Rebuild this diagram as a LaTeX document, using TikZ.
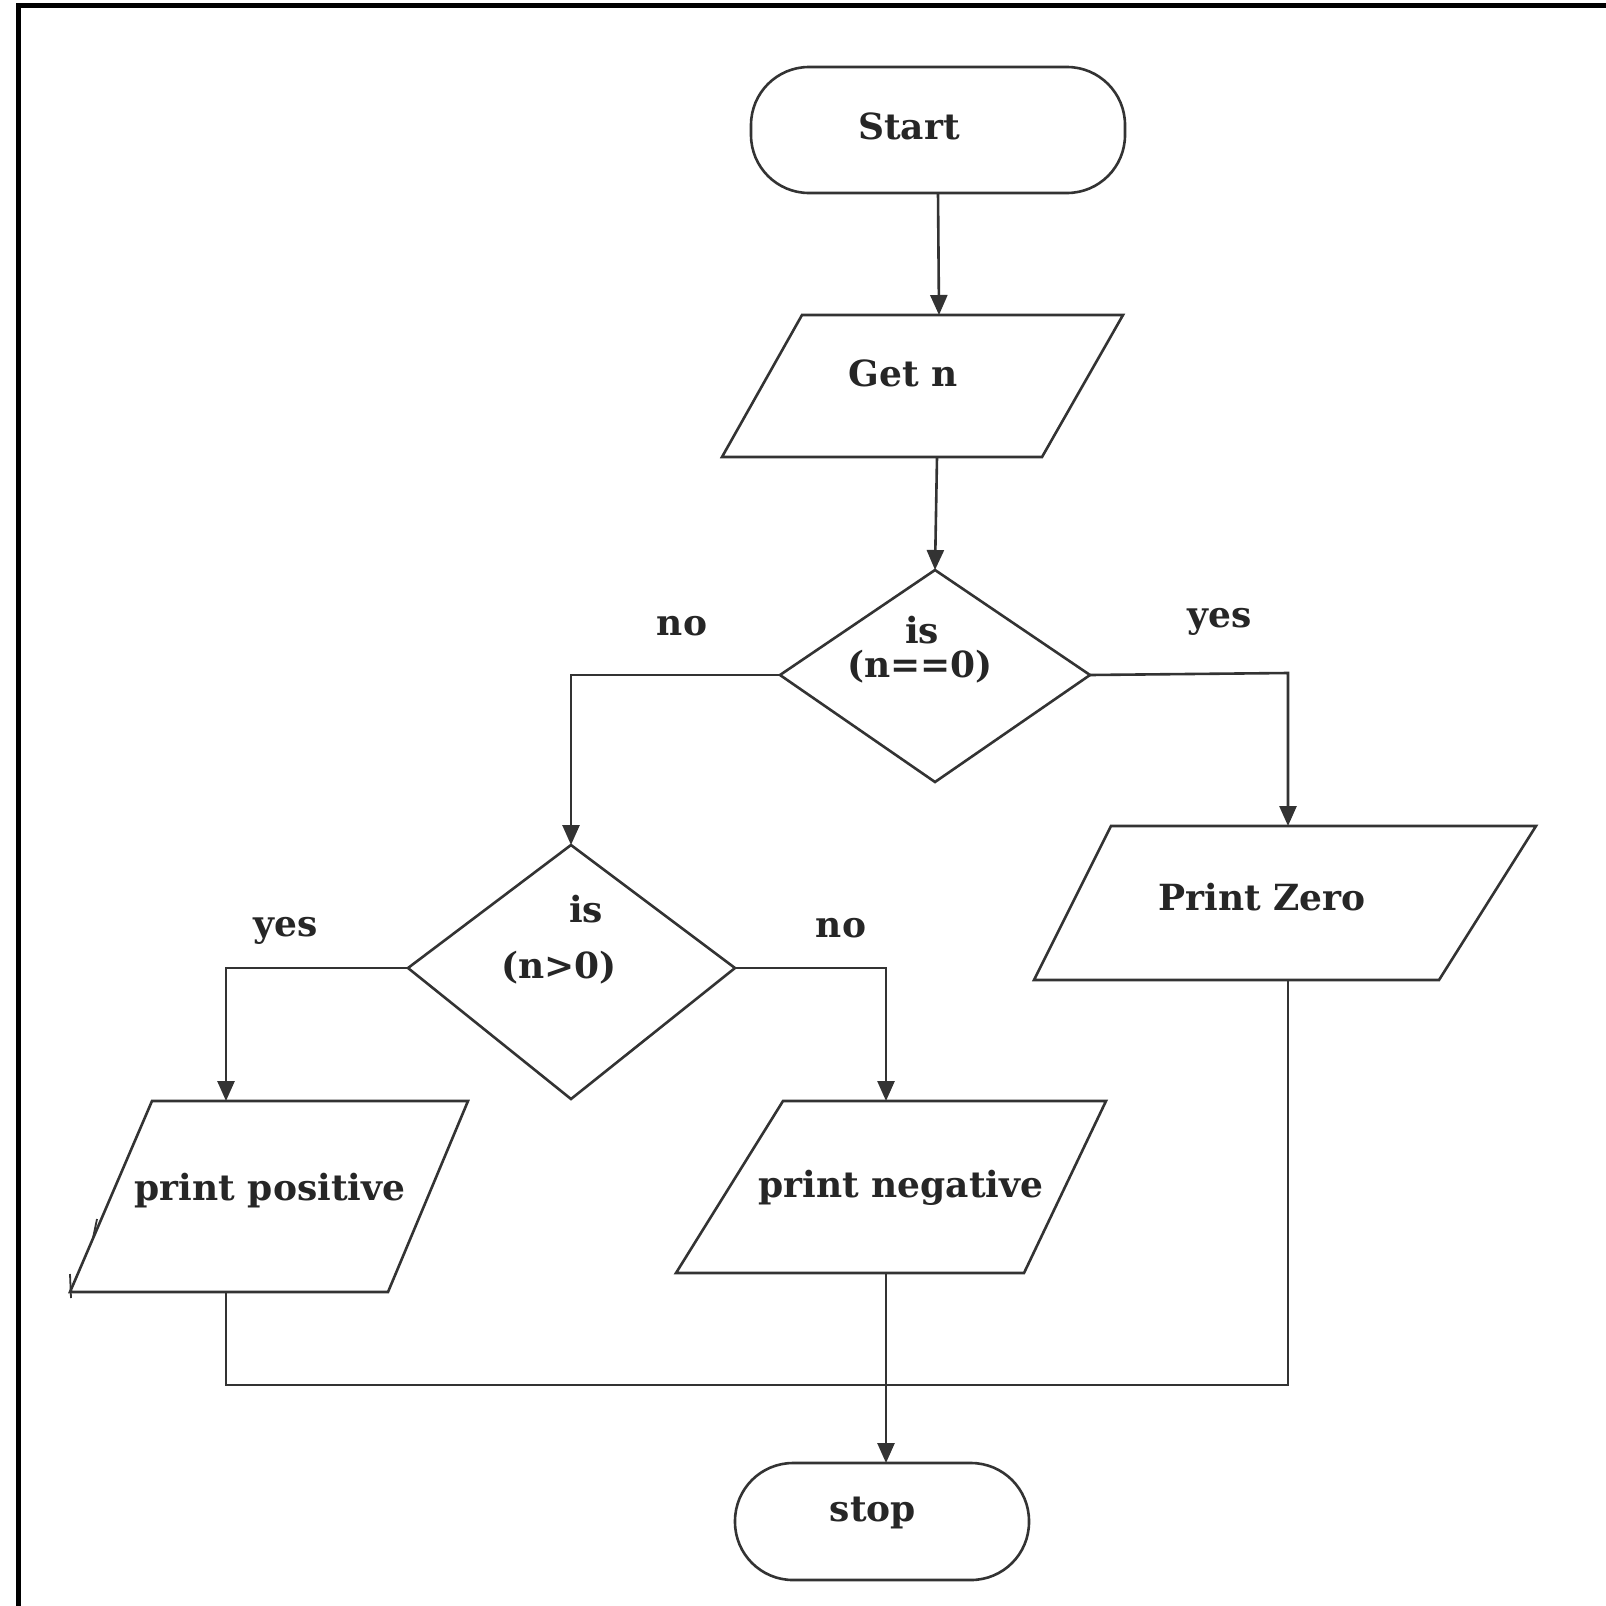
\documentclass[tikz,border=0pt]{standalone}
\usepackage{fontspec}
\setmainfont{DejaVu Serif}
\usetikzlibrary{arrows.meta}
\definecolor{ln}{HTML}{333333}
\begin{document}
\begin{tikzpicture}[x=0.5pt,y=-0.5pt,
  shp/.style={draw=ln,line width=1.3pt,line join=miter},
  conn/.style={draw=ln,line width=1.3pt},
  arr/.style={conn,-{Triangle[length=10pt,width=8.5pt]}},
  txt/.style={font=\fontsize{18}{20}\selectfont\bfseries,text=black!85,inner sep=0pt},
  lbl/.style={txt}]
\useasboundingbox (0,0) rectangle (1606,1606);
\fill[white] (0,0) rectangle (1606,1606);
% frame
\draw[line width=2.6pt,black] (18.5,1606) -- (18.5,5.5) -- (1606,5.5);
% Start terminal
\draw[shp,rounded corners=29pt] (751,67) rectangle (1125,193);
\coordinate (start-b) at (938,193);
\node[txt] (start) at (909,126) {Start};
% Get n
\draw[shp] (802,315) -- (1123,315) -- (1042,457) -- (722,457) -- cycle;
\coordinate (getn-t) at (939,315);
\coordinate (getn-b) at (937,457);
\node[txt] (getn) at (903,373) {Get n};
% diamond 1
\draw[shp] (935,570) -- (1090,675) -- (935,782) -- (780,675) -- cycle;
\coordinate (d1-t) at (935,570);
\coordinate (d1-l) at (780,675);
\coordinate (d1-r) at (1090,675);
\node[txt] (d1a) at (922,630) {is};
\node[txt] (d1b) at (920,667) {(n==0)};
% Print Zero
\draw[shp] (1111,826) -- (1536,826) -- (1439,980) -- (1034,980) -- cycle;
\coordinate (pz-t) at (1288,826);
\coordinate (pz-b) at (1288,980);
\node[txt] (pz) at (1262,897) {Print Zero};
% diamond 2
\draw[shp] (571,845) -- (735,968) -- (571,1099) -- (408,968) -- cycle;
\coordinate (d2-t) at (571,845);
\coordinate (d2-l) at (408,968);
\coordinate (d2-r) at (735,968);
\node[txt] (d2a) at (586,909) {is};
\node[txt] (d2b) at (559,968) {(n>0)};
% print positive
\draw[shp] (152,1101) -- (468,1101) -- (388,1292) -- (70,1292) -- cycle;
\coordinate (pp-t) at (226,1101);
\coordinate (pp-b) at (226,1292);
\node[txt] (pp) at (270,1191) {print positive};
\draw[conn,line width=0.9pt] (70,1274) -- (71,1298);
\draw[conn,line width=0.9pt] (97,1219) -- (93,1238);
% print negative
\draw[shp] (783,1101) -- (1106,1101) -- (1024,1273) -- (676,1273) -- cycle;
\coordinate (pn-t) at (886,1101);
\coordinate (pn-b) at (886,1273);
\node[txt] (pn) at (901,1188) {print negative};
% stop
\draw[shp,rounded corners=29pt] (735,1463) rectangle (1029,1580);
\coordinate (stop-t) at (886,1463);
\node[txt] (stop) at (873,1513) {stop};
% join point
\coordinate (j1) at (226,1385);
\coordinate (j2) at (1288,1385);
% connectors
\draw[arr] (start-b) -- (getn-t);
\draw[arr] (getn-b) -- (d1-t);
\draw[arr] (d1-l) -- (571,675) -- (d2-t);
\draw[arr] (d1-r) -- (1288,673) -- (pz-t);
\draw[arr] (d2-l) -- (226,968) -- (pp-t);
\draw[arr] (d2-r) -- (886,968) -- (pn-t);
\draw[conn] (pp-b) -- (j1) -- (j2) -- (pz-b);
\draw[arr] (pn-b) -- (stop-t);
% labels
\node[lbl] (no1) at (682,626) {no};
\node[lbl] (yes1) at (1220,622) {yes};
\node[lbl] (yes2) at (286,931) {yes};
\node[lbl] (no2) at (841,928) {no};
\end{tikzpicture}
\end{document}
